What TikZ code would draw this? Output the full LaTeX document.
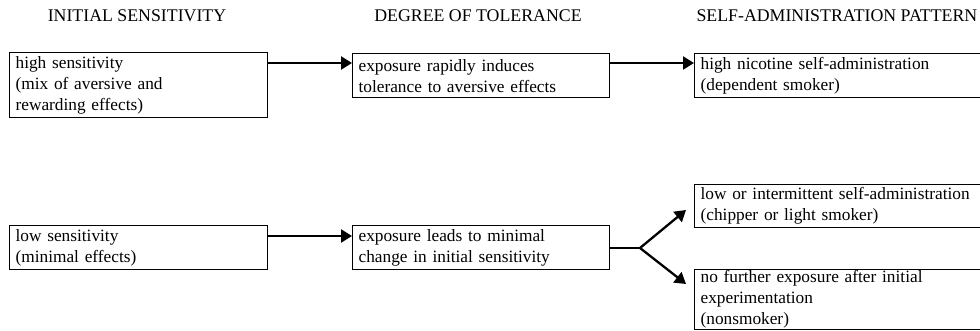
\documentclass[tikz,border=0pt]{standalone}
\usepackage{fontspec}
\setmainfont{Liberation Serif}
\usetikzlibrary{arrows.meta,calc}
\begin{document}
\begin{tikzpicture}[x=1pt,y=-1pt,
  box/.style={draw,line width=1.2pt,anchor=north west,inner xsep=6pt,inner ysep=2pt,
    align=left,font=\fontsize{17.3}{21}\selectfont},
  head/.style={font=\fontsize{17.8}{21}\selectfont},
  arr/.style={line width=2.3pt,-{Triangle[length=11pt,width=13pt]}},
  ln/.style={line width=2.3pt}]
\clip (0,0) rectangle (980,331);
\fill[white] (0,0) rectangle (980,331);
% headers
\node[head] (h1) at (137,16) {INITIAL SENSITIVITY};
\node[head] (h2) at (478,16) {DEGREE OF TOLERANCE};
\node[head,anchor=west] (h3) at (693,16) {SELF-ADMINISTRATION PATTERN};
% boxes
\node[box,text width=246pt,minimum height=65pt] (b1) at (9,52) {high sensitivity\\(mix of aversive and\\rewarding effects)};
\node[box,text width=245pt,minimum height=44pt] (b2) at (352,53) {exposure rapidly induces\\tolerance to aversive effects};
\node[box,text width=290pt,minimum height=44pt] (b3) at (694,53) {high nicotine self-administration\\(dependent smoker)};
\node[box,text width=246pt,minimum height=44pt] (b4) at (9,225) {low sensitivity\\(minimal effects)};
\node[box,text width=245pt,minimum height=44pt] (b5) at (352,225) {exposure leads to minimal\\change in initial sensitivity};
\node[box,text width=290pt,minimum height=43pt] (b6) at (694,184) {low or intermittent self-administration\\(chipper or light smoker)};
\node[box,text width=290pt,inner ysep=1pt] (b7) at (694,269) {no further exposure after initial\\experimentation\\(nonsmoker)};
% connectors
\coordinate (r1) at (0,63);
\coordinate (r2) at (0,236);
\coordinate (br) at (640,248);
\coordinate (t6) at (686,210);
\coordinate (t7) at (686,284);
\draw[arr] (b1.east |- r1) -- (b2.west |- r1);
\draw[arr] (b2.east |- r1) -- (b3.west |- r1);
\draw[arr] (b4.east |- r2) -- (b5.west |- r2);
\draw[ln] (b5.east |- br) -- (br);
\draw[arr] (br) -- (t6);
\draw[arr] (br) -- (t7);
\end{tikzpicture}
\end{document}
